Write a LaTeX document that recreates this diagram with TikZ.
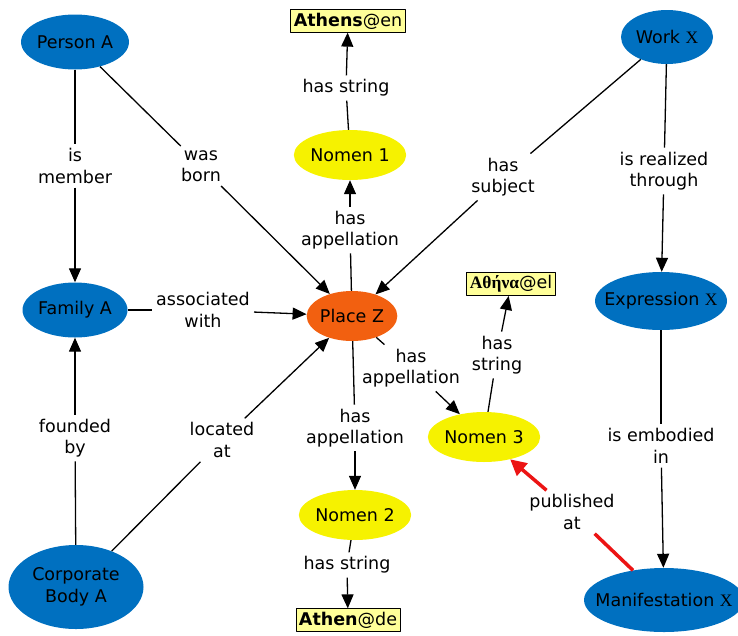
\documentclass[tikz,border=0pt]{standalone}
\usepackage{fontspec}
\setmainfont{DejaVu Sans}
\newfontfamily\serifx{Liberation Serif}
\usetikzlibrary{shapes.geometric,arrows.meta}
\definecolor{frbrblue}{RGB}{0,112,192}
\definecolor{placeorange}{RGB}{242,96,16}
\definecolor{nomenyellow}{RGB}{246,242,0}
\definecolor{stringyellow}{RGB}{255,255,153}
\definecolor{pubred}{RGB}{236,20,20}
\begin{document}
\begin{tikzpicture}[x=1pt, y=-1pt, font=\fontsize{17.5}{21.5}\selectfont, line join=round, >={Triangle[length=14pt,width=12pt]},
	concept/.style={ellipse, fill=frbrblue, inner sep=0pt},
	nomen/.style={ellipse, fill=nomenyellow, inner sep=0pt, minimum width=106pt, minimum height=50pt},
	strbox/.style={draw=black, line width=0.9pt, fill=stringyellow, inner sep=3pt},
	rel/.style={align=center, inner sep=4pt},
	link/.style={line width=1.3pt}]
	\useasboundingbox (0,0) rectangle (738,635);
	% concepts
	\node[concept, minimum width=105pt, minimum height=55pt] (personA) at (75,42) {Person A};
	\node[concept, minimum width=105pt, minimum height=55pt] (familyA) at (75,310) {Family A};
	\node[concept, minimum width=135pt, minimum height=84pt, align=center] (corpA) at (76,587) {Corporate\\Body A};
	\node[concept, minimum width=92pt, minimum height=54pt] (workX) at (667,37) {Work {\serifx X}};
	\node[concept, inner xsep=-10pt, minimum width=132pt, minimum height=58pt] (exprX) at (661,301) {Expression {\serifx X}};
	\node[concept, inner xsep=-12pt, minimum width=160pt, minimum height=64pt] (manifX) at (664,600) {Manifestation {\serifx X}};
	\node[ellipse, fill=placeorange, inner sep=0pt, minimum width=90pt, minimum height=50pt] (placeZ) at (352,316) {Place Z};
	\node[nomen] (nomen1) at (350,155) {Nomen 1};
	\node[nomen, minimum width=110pt] (nomen2) at (355,515) {Nomen 2};
	\node[nomen] (nomen3) at (484,437) {Nomen 3};
	\node[strbox] (athensEn) at (348,21) {\textbf{Athens}@en};
	\node[strbox] (athinaEl) at (511,284) {{\serifx\bfseries Αθήνα}@el};
	\node[strbox] (athenDe) at (348,620) {\textbf{Athen}@de};
	% linking phrases
	\node[rel] (isMember) at (75,166) {is\\member};
	\node[rel] (wasBorn) at (201,166) {was\\born};
	\node[rel] (assocWith) at (203,310) {associated\\with};
	\node[rel] (foundedBy) at (75,438) {founded\\by};
	\node[rel] (locatedAt) at (222,440) {located\\at};
	\node[rel] (strEn) at (346,88) {has string};
	\node[rel] (app1) at (350,230) {has\\appellation};
	\node[rel] (hasSubject) at (503,177) {has\\subject};
	\node[rel] (realized) at (664,171) {is realized\\through};
	\node[rel] (app2) at (355,428) {has\\appellation};
	\node[rel] (app3) at (411,368) {has\\appellation};
	\node[rel] (strEl) at (497,355) {has\\string};
	\node[rel] (strDe) at (347,565) {has string};
	\node[rel] (embodied) at (661,446) {is embodied\\in};
	\node[rel] (publishedAt) at (572,512) {published\\at};
	% connections
	\foreach \a/\l/\b in {personA/isMember/familyA, personA/wasBorn/placeZ, familyA/assocWith/placeZ,
		corpA/foundedBy/familyA, corpA/locatedAt/placeZ, nomen1/strEn/athensEn, placeZ/app1/nomen1,
		workX/hasSubject/placeZ, workX/realized/exprX, placeZ/app2/nomen2, placeZ/app3/nomen3,
		nomen3/strEl/athinaEl, nomen2/strDe/athenDe, exprX/embodied/manifX}{
		\draw[link] (\a)--(\l);
		\draw[link,->] (\l)--(\b);}
	\draw[pubred, line width=3.5pt] (manifX)--(publishedAt);
	\draw[pubred, line width=3.5pt, -{Triangle[length=16pt,width=16pt]}] (publishedAt)--(nomen3);
\end{tikzpicture}
\end{document}
